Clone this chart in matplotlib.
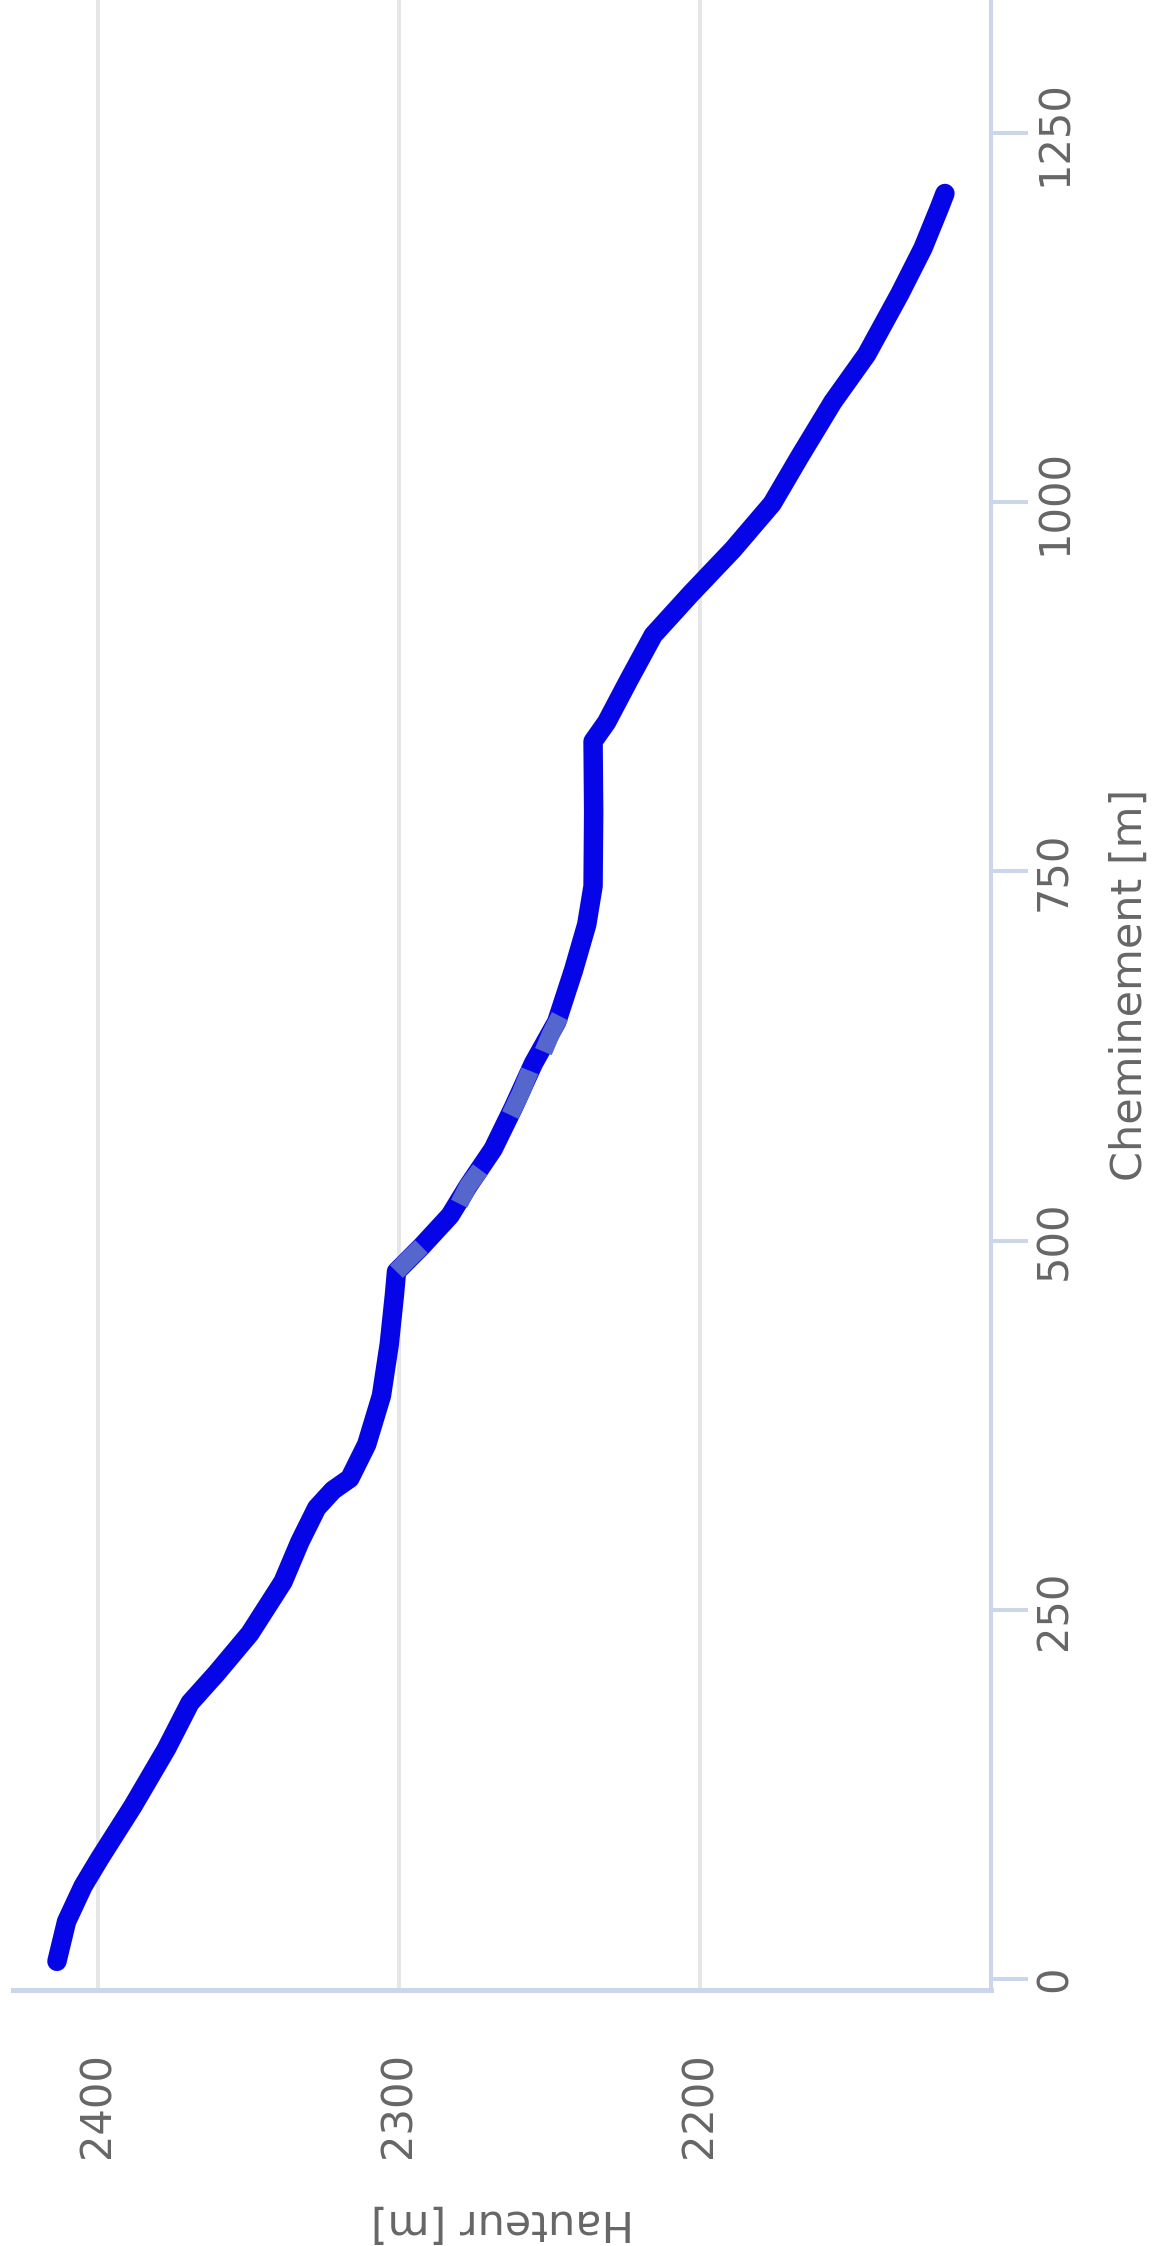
import matplotlib
matplotlib.use("Agg")
import matplotlib.pyplot as plt

# Data: cheminement (distance) [m] and hauteur (altitude) [m]
cheminement = [12, 39, 63, 82, 117, 156, 187, 207, 234, 269, 296, 319, 331, 339,
               362, 395, 430, 463, 479, 496, 517, 537, 562, 590, 620, 648, 683,
               714, 740, 790, 838, 851, 880, 910, 938, 968, 999, 1031, 1068,
               1100, 1141, 1172, 1200, 1209]
hauteur = [2413.6, 2410.4, 2404.9, 2399.3, 2388.4, 2377.2, 2369.4, 2360.6, 2349.5,
           2338.5, 2332.9, 2327.3, 2321.9, 2316.3, 2310.7, 2305.8, 2303.2, 2301.5,
           2300.8, 2292.5, 2283.0, 2277.0, 2268.7, 2262.0, 2255.3, 2247.6, 2242.0,
           2237.6, 2235.5, 2235.3, 2235.5, 2231.0, 2223.5, 2215.5, 2203.0, 2189.0,
           2176.0, 2166.8, 2155.8, 2144.6, 2133.6, 2125.9, 2120.3, 2118.6]

# lighter (overlapping) stretches of the track
seg_cheminement = [[479, 487, 496], [525, 537, 548], [585, 600, 615], [628, 640, 652]]
seg_hauteur = [[2300.8, 2297.0, 2292.5], [2280.0, 2277.0, 2273.0],
               [2263.0, 2259.5, 2256.5], [2252.0, 2249.5, 2246.5]]

hauteur_ticks = [2400, 2300, 2200]
cheminement_ticks = [0, 250, 500, 750, 1000, 1250]

W, H = 1155, 2246
fig = plt.figure(figsize=(W / 100, H / 100), dpi=100)
fig.patch.set_facecolor("white")

left_px, right_px, bottom_px = 13, 991, 1990
ax = fig.add_axes([left_px / W, 1 - bottom_px / H, (right_px - left_px) / W, bottom_px / H])

ax.plot(hauteur, cheminement, color="#0505e8", lw=14,
        solid_capstyle="round", solid_joinstyle="round", zorder=3)
for sc, sh in zip(seg_cheminement, seg_hauteur):
    ax.plot(sh, sc, color="#5566cc", lw=13, solid_capstyle="butt", zorder=4)

ax.set_xlim(2428.2, 2103.3)
ax.set_ylim(-7.4, 1340)

ax.set_xticks(hauteur_ticks)
ax.set_xticklabels([str(v) for v in hauteur_ticks])
ax.set_yticks(cheminement_ticks)
ax.set_yticklabels([str(v) for v in cheminement_ticks])

ax.grid(axis="x", color="#e6e6e6", lw=2.9, zorder=0)
ax.grid(axis="y", visible=False)

for s in ["top", "left"]:
    ax.spines[s].set_visible(False)
ax.spines["bottom"].set_color("#ccd6eb")
ax.spines["bottom"].set_linewidth(3.6)
ax.spines["right"].set_color("#ccd6eb")
ax.spines["right"].set_linewidth(2.9)

ax.yaxis.tick_right()
ax.tick_params(axis="y", which="both", right=True, left=False, length=26.6, width=2.9,
               color="#ccd6eb", pad=4, labelsize=30, labelcolor="#666666",
               labelrotation=90)
for lab in ax.get_yticklabels():
    lab.set_verticalalignment("center")
ax.tick_params(axis="x", which="both", length=0, pad=45, labelsize=30,
               labelcolor="#666666", labelrotation=90)

fig.text(502 / W, 1 - 2222 / H, "Hauteur [m]", rotation=180, ha="center", va="center",
         fontsize=31, color="#666666")
fig.text(1130 / W, 1 - 985 / H, "Cheminement [m]", rotation=90, ha="center", va="center",
         fontsize=31, color="#666666")

fig.savefig("out.png", dpi=100, facecolor="white")
